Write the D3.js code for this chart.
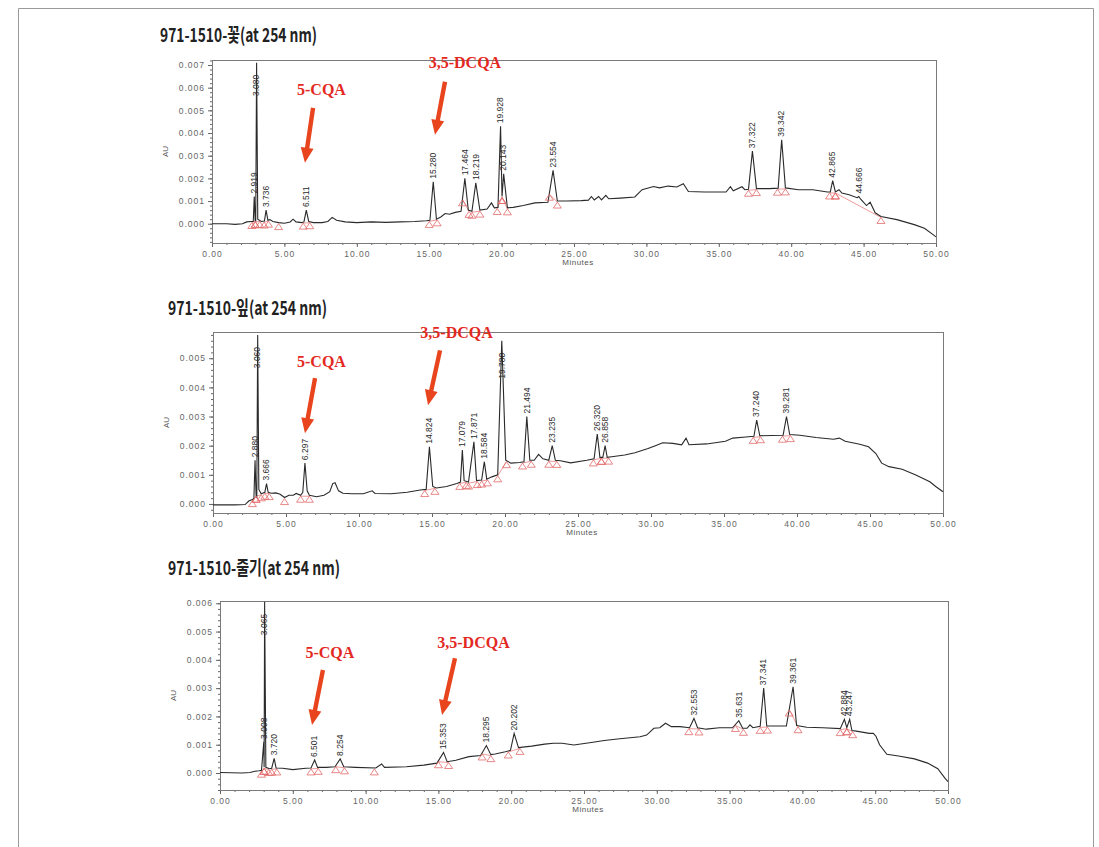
<!DOCTYPE html>
<html>
<head>
<meta charset="utf-8">
<script src="https://cdn.jsdelivr.net/npm/d3@7"></script>
<style>
  html, body { margin: 0; padding: 0; background: #fff; }
  svg { display: block; }
</style>
</head>
<body>
<script>
// ---- Chromatogram traces: [retention time (min), absorbance (AU)] ----
const flowerTrace = [
  [0,0.0000],[1.0,0.0000],[1.6,-0.00003],[2.1,0.0000],[2.4,0.00008],[2.7,0.0001],
  [2.85,0.0001],[2.919,0.0012],[2.98,0.00015],[3.02,0.0001],[3.08,0.0071],[3.16,0.0002],[3.4,0.0001],
  [3.62,0.00012],[3.736,0.0006],[3.86,0.00015],[4.0,0.00018],[4.2,0.0001],[4.6,0.00005],[5.0,0.00002],
  [5.4,0.00008],[5.6,0.0002],[5.8,0.00008],[6.2,0.00005],
  [6.35,0.00008],[6.511,0.0006],[6.68,0.0001],[7.0,0.00005],[7.6,0.00005],[8.0,0.0001],[8.3,0.00028],
  [8.6,0.00015],[9.2,0.00008],[10,0.00005],[11,0.00008],[12,0.00006],[13,0.00008],[14,0.0001],[14.8,0.00013],
  [15.05,0.00015],[15.28,0.00185],[15.5,0.0002],[15.8,0.0003],[16.1,0.00045],[16.4,0.00042],[16.8,0.0005],[17.2,0.00055],
  [17.464,0.002],[17.7,0.0006],[17.95,0.00055],[18.219,0.0018],[18.5,0.0006],[19.0,0.00065],[19.3,0.00092],
  [19.5,0.0007],[19.75,0.00072],
  [19.928,0.0043],[20.03,0.0012],[20.143,0.0022],[20.4,0.0007],[20.8,0.00072],[21.5,0.0008],[22.3,0.00092],[23.2,0.00095],
  [23.554,0.00235],[23.85,0.001],[24.5,0.001],[25.5,0.00102],[26.0,0.00104],[26.2,0.0012],[26.4,0.00105],
  [26.7,0.0012],[26.9,0.00105],[27.2,0.00125],[27.4,0.0011],[28.2,0.00113],[29.2,0.00118],[29.7,0.0015],
  [30.5,0.00164],[30.9,0.00158],[31.5,0.00166],[32.1,0.00162],[32.55,0.00176],[32.9,0.00142],[34,0.0014],
  [35.5,0.0014],[35.8,0.00163],[36.0,0.00145],[36.6,0.00163],[36.8,0.0015],
  [37.05,0.00152],[37.322,0.0032],[37.6,0.00155],[38.5,0.00155],[39.1,0.00157],[39.342,0.0037],[39.6,0.00158],
  [40.5,0.0015],[41.5,0.0015],[42.5,0.0014],[42.7,0.0014],[42.865,0.0019],[43.05,0.0014],[43.3,0.0015],
  [43.5,0.00135],[44.0,0.00128],[44.55,0.00115],[44.666,0.0012],[44.8,0.00108],[45.2,0.0008],[45.45,0.00095],
  [45.8,0.00048],[46.2,0.00032],[47.3,0.00018],[48.5,-0.00004],[49.2,-0.0002],[49.8,-0.00048],[50,-0.00058]
];

const leafTrace = [
  [0,-0.00003],[1.5,-0.00003],[2.2,-0.00002],[2.45,0.0001],[2.7,0.00015],
  [2.8,0.00018],[2.88,0.0015],[2.95,0.0003],[3.0,0.0002],[3.06,0.0058],[3.14,0.0005],[3.3,0.00035],[3.55,0.0004],
  [3.666,0.0007],[3.78,0.0004],[4.0,0.00037],[4.3,0.00038],[4.6,0.00033],[4.9,0.00022],[5.2,0.0003],
  [5.5,0.0003],[5.7,0.00036],[6.0,0.0003],
  [6.15,0.0004],[6.297,0.0014],[6.45,0.00045],[6.6,0.0003],[7.1,0.00025],[7.6,0.0003],[8.0,0.00042],
  [8.2,0.0007],[8.36,0.00073],[8.6,0.00045],[8.9,0.00037],[9.5,0.00035],[10.3,0.00035],[10.9,0.00045],
  [11.1,0.00036],[12.2,0.00035],[13.3,0.0004],[14.2,0.00048],[14.6,0.0005],
  [14.824,0.00196],[15.05,0.0006],[15.3,0.00055],[16.0,0.0006],[16.7,0.0007],[16.95,0.00075],
  [17.079,0.00185],[17.2,0.0008],[17.5,0.00075],[17.871,0.00213],[18.05,0.0008],[18.4,0.00082],
  [18.584,0.00145],[18.75,0.00085],[19.1,0.00093],[19.5,0.001],
  [19.78,0.0056],[20.05,0.0015],[20.4,0.0014],[21.0,0.00142],[21.3,0.00145],
  [21.494,0.003],[21.7,0.0015],[22.0,0.0015],[22.3,0.0017],[22.6,0.00155],[23.0,0.0015],
  [23.235,0.002],[23.45,0.0015],[23.8,0.00148],[24.5,0.00141],[25.6,0.0015],[26.1,0.00155],
  [26.32,0.0024],[26.5,0.0016],[26.7,0.0016],[26.858,0.002],[27.0,0.0016],[27.3,0.00162],[28.2,0.00168],
  [28.9,0.00176],[29.8,0.0019],[30.3,0.002],[30.8,0.0021],[31.5,0.00208],[32.1,0.00203],[32.4,0.00226],
  [32.6,0.00203],[33.8,0.00206],[35.1,0.00215],[35.6,0.00226],[36.5,0.0023],[37.05,0.00232],
  [37.24,0.00288],[37.45,0.00234],[38.3,0.00235],[39.05,0.00236],[39.281,0.003],[39.5,0.00238],
  [40.2,0.00236],[41.3,0.00228],[42.5,0.00222],[42.9,0.00226],[43.3,0.00215],[44.3,0.00205],[44.9,0.00196],
  [45.4,0.00173],[45.8,0.0014],[46.3,0.00128],[47.2,0.00119],[48.1,0.001],[49.1,0.00076],[49.5,0.0006],[50,0.00042]
];

const stemTrace = [
  [0,0.00002],[1.5,0.0],[2.06,0.00002],[2.4,0.00006],[2.7,0.00008],
  [2.85,0.0001],[3.008,0.0011],[3.03,0.0002],[3.065,0.00605],[3.15,0.0002],[3.4,0.00015],[3.55,0.00017],
  [3.72,0.00052],[3.85,0.00018],[4.3,0.00017],[5.0,0.00012],[5.9,0.00017],[6.25,0.00018],
  [6.501,0.00046],[6.7,0.0002],[7.3,0.0002],[7.9,0.00022],[8.254,0.0005],[8.5,0.00022],[9.3,0.0002],
  [10.7,0.00018],[11.1,0.00032],[11.3,0.0002],[12.8,0.00022],[14.0,0.00028],[14.9,0.00035],
  [15.353,0.00073],[15.6,0.0004],[16.2,0.00045],[17.1,0.00058],[17.9,0.00062],
  [18.295,0.00097],[18.6,0.00065],[18.9,0.00067],[19.6,0.00075],[19.95,0.0008],
  [20.202,0.0014],[20.5,0.0009],[21.4,0.00095],[22.3,0.00102],[22.9,0.00105],[23.5,0.00105],[24.3,0.00099],
  [25.5,0.00108],[26.4,0.00115],[27.3,0.0012],[28.85,0.00128],[29.3,0.00134],[29.8,0.00158],[30.2,0.0016],
  [30.6,0.00176],[31.0,0.00164],[31.6,0.00164],[32.25,0.0016],
  [32.553,0.00193],[32.8,0.0016],[33.4,0.00155],[34.3,0.0016],[35.2,0.0016],[35.631,0.00185],[35.9,0.00158],
  [36.2,0.00158],[36.4,0.0017],[36.6,0.0016],[37.1,0.00165],
  [37.341,0.003],[37.55,0.00166],[38.0,0.00166],[38.9,0.00166],[39.361,0.00305],[39.6,0.00168],
  [40.3,0.00162],[41.4,0.0016],[42.6,0.00157],
  [42.884,0.0019],[43.05,0.0016],[43.247,0.0019],[43.4,0.0015],[43.7,0.00148],[44.6,0.0014],[44.87,0.0014],
  [45.05,0.0013],[45.3,0.001],[45.8,0.00066],[46.6,0.0006],[47.7,0.0005],[48.6,0.00035],[49.3,0.00015],
  [49.8,-0.00019],[50,-0.0003]
];

// ---- Integrated peaks: [retention time, start, end] ----
const flowerPeaks = [
  [2.919,2.75,2.98],[3.08,3.0,3.3],[3.736,3.6,3.9],[6.511,6.3,6.75],[15.28,15.0,15.55],
  [17.464,17.3,17.75],[18.219,17.95,18.5],[19.928,19.7,20.03],[20.143,20.03,20.4],[23.554,23.3,23.85],
  [37.322,37.05,37.6],[39.342,39.05,39.6],[42.865,42.65,43.05],[44.666,43.05,46.2]
];
const leafPeaks = [
  [2.88,2.7,2.95],[3.06,2.95,3.3],[3.666,3.55,3.85],[6.297,6.0,6.6],[14.824,14.5,15.2],
  [17.079,16.9,17.35],[17.871,17.5,18.1],[18.584,18.4,18.8],[19.78,19.5,20.1],[21.494,21.2,21.8],
  [23.235,23.0,23.55],[26.32,26.05,26.6],[26.858,26.6,27.1],[37.24,37.0,37.5],[39.281,39.0,39.55]
];
const stemPeaks = [
  [3.008,2.85,3.03],[3.065,3.03,3.35],[3.72,3.55,3.9],[6.501,6.25,6.75],[8.254,7.95,8.55],
  [15.353,15.0,15.7],[18.295,18.0,18.6],[20.202,19.8,20.6],[32.553,32.2,32.9],[35.631,35.4,35.95],
  [37.341,37.1,37.6],[39.361,39.1,39.7],[42.884,42.6,43.05],[43.247,43.05,43.45]
];
// extra integration event marks (min)
const flowerEvents = [4.6];
const leafEvents = [4.9];
const stemEvents = [10.6];

// ---- Axis ticks ----
const timeTicks = [0,5,10,15,20,25,30,35,40,45,50];
const flowerAuTicks = [0,0.001,0.002,0.003,0.004,0.005,0.006,0.007];
const leafAuTicks = [0,0.001,0.002,0.003,0.004,0.005];
const stemAuTicks = [0,0.001,0.002,0.003,0.004,0.005,0.006];

// ---- Titles ----
const titles = ["971-1510-꽃(at 254 nm)", "971-1510-잎(at 254 nm)", "971-1510-줄기(at 254 nm)"];

// ---- Compound call-outs: [text, textT, textAU, tailT, tailAU, tipT, tipAU] ----
const flowerNotes = [["5-CQA",7.56,0.00568,6.98,0.00511,6.42,0.00269],["3,5-DCQA",17.47,0.00687,16.09,0.00626,15.40,0.00392]];
const leafNotes   = [["5-CQA",7.43,0.00469,6.99,0.00432,6.30,0.00243],["3,5-DCQA",16.68,0.00568,15.55,0.00527,14.73,0.00339]];
const stemNotes   = [["5-CQA",7.55,0.00406,7.07,0.00364,6.32,0.0017],["3,5-DCQA",17.41,0.00442,16.14,0.00406,15.25,0.00205]];

// ---- Panel layout ----
const panels = [
  {title: titles[0], tx: 160, ty: 42, tw: 157, l: 212, r: 936, t: 60, b: 243, dom: [-0.00085, 0.00722],
   trace: flowerTrace, peaks: flowerPeaks, events: flowerEvents, yTicks: flowerAuTicks, notes: flowerNotes},
  {title: titles[1], tx: 168, ty: 315, tw: 159, l: 213, r: 943, t: 332, b: 513, dom: [-0.00031, 0.0059],
   trace: leafTrace, peaks: leafPeaks, events: leafEvents, yTicks: leafAuTicks, notes: leafNotes},
  {title: titles[2], tx: 168, ty: 575, tw: 172, l: 220, r: 948, t: 601, b: 790, dom: [-0.0006, 0.00608],
   trace: stemTrace, peaks: stemPeaks, events: stemEvents, yTicks: stemAuTicks, notes: stemNotes}
];

const W = 1099, H = 847;
const svg = d3.select("body").append("svg").attr("width", W).attr("height", H);
svg.append("rect").attr("width", W).attr("height", H).attr("fill", "#fff");

// page frame
svg.append("path").attr("d", "M18.5,847 V8.5 H1093.5 V847")
  .attr("fill", "none").attr("stroke", "#9a9a9a").attr("stroke-width", 1);

const fmtAU = d3.format(".3f"), fmtMin = d3.format(".2f");
const tickFont = "'Liberation Sans', Arial, sans-serif";
const bis = d3.bisector(d => d[0]).left;

function valueAt(trace, t) {
  const i = Math.max(1, Math.min(trace.length - 1, bis(trace, t)));
  const a = trace[i - 1], b = trace[i];
  const k = (t - a[0]) / (b[0] - a[0]);
  return a[1] + k * (b[1] - a[1]);
}

panels.forEach((p, pi) => {
  const x = d3.scaleLinear().domain([0, 50]).range([p.l, p.r]);
  const y = d3.scaleLinear().domain(p.dom).range([p.b, p.t]);
  const g = svg.append("g");

  // title
  g.append("text").attr("x", p.tx).attr("y", p.ty)
    .attr("textLength", p.tw).attr("lengthAdjust", "spacingAndGlyphs")
    .attr("font-family", "'Noto Sans CJK KR', sans-serif").attr("font-weight", 700)
    .attr("font-size", 19).attr("fill", "#222").text(p.title);

  // axes
  g.append("g").attr("transform", `translate(0,${p.b})`)
    .call(d3.axisBottom(x).tickValues(timeTicks).tickFormat(fmtMin).tickSize(4).tickPadding(4));
  g.append("g").attr("transform", `translate(0,${p.b})`)
    .call(d3.axisBottom(x).ticks(50).tickFormat("").tickSize(2));
  g.append("g").attr("transform", `translate(${p.l},0)`)
    .call(d3.axisLeft(y).tickValues(p.yTicks).tickFormat(fmtAU).tickSize(4).tickPadding(3));
  g.append("g").attr("transform", `translate(${p.l},0)`)
    .call(d3.axisLeft(y).ticks(40).tickFormat("").tickSize(2));
  g.selectAll(".domain").remove();
  g.selectAll(".tick line").attr("stroke", "#666");
  g.selectAll(".tick text").attr("font-family", tickFont).attr("font-size", 8.5)
    .attr("letter-spacing", 1).attr("fill", "#666");

  // plot frame
  g.append("rect").attr("x", p.l + 0.5).attr("y", p.t + 0.5)
    .attr("width", p.r - p.l).attr("height", p.b - p.t)
    .attr("fill", "none").attr("stroke", "#7a7a7a").attr("stroke-width", 1);

  // axis titles
  g.append("text").attr("transform", `translate(${p.l - 44},${(p.t + p.b) / 2}) rotate(-90)`)
    .attr("text-anchor", "middle").attr("font-family", tickFont).attr("font-size", 8)
    .attr("fill", "#555").text("AU");
  g.append("text").attr("x", (p.l + p.r) / 2 + 4).attr("y", p.b + 22)
    .attr("text-anchor", "middle").attr("font-family", tickFont).attr("font-size", 8)
    .attr("letter-spacing", 0.5).attr("fill", "#555").text("Minutes");

  // clip
  const cid = "clip" + pi;
  svg.append("clipPath").attr("id", cid).append("rect")
    .attr("x", p.l).attr("y", p.t).attr("width", p.r - p.l).attr("height", p.b - p.t);
  const plot = g.append("g").attr("clip-path", `url(#${cid})`);

  // integration baselines
  plot.selectAll(".base").data(p.peaks).join("line")
    .attr("x1", d => x(d[1])).attr("y1", d => y(valueAt(p.trace, d[1])) + 1)
    .attr("x2", d => x(d[2])).attr("y2", d => y(valueAt(p.trace, d[2])) + 1)
    .attr("stroke", "#e88080").attr("stroke-width", 0.8);

  // chromatogram trace
  plot.append("path").datum(p.trace)
    .attr("d", d3.line().x(d => x(d[0])).y(d => y(d[1])))
    .attr("fill", "none").attr("stroke", "#2a2a2a").attr("stroke-width", 1.1);

  // peak start / end marks
  const marks = p.peaks.flatMap(d => [d[1], d[2]]).concat(p.events);
  plot.selectAll(".mk").data(marks).join("path")
    .attr("d", t => {
      const cx = x(t), cy = y(valueAt(p.trace, t)) + 1;
      return `M${cx},${cy} L${cx - 4},${cy + 6} L${cx + 4},${cy + 6} Z`;
    })
    .attr("fill", "none").attr("stroke", "#e36a6a").attr("stroke-width", 0.8);

  // retention-time labels
  p.peaks.forEach(d => {
    const apex = p.trace.find(q => q[0] === d[0]);
    const ax0 = x(d[0]), ay0 = y(apex[1]);
    const txt = g.append("text")
      .attr("font-family", tickFont).attr("font-size", 8.5).attr("fill", "#2a2a2a")
      .attr("dominant-baseline", "middle").text(d[0].toFixed(3));
    const len = txt.node().getComputedTextLength();
    if (ay0 - 3 - len < p.t + 4) {
      txt.attr("text-anchor", "end").attr("transform", `translate(${ax0 + 0.5},${ay0 + 12}) rotate(-90)`);
    } else {
      txt.attr("text-anchor", "start").attr("transform", `translate(${ax0 + 0.5},${ay0 - 3}) rotate(-90)`);
    }
  });

  // compound call-outs
  p.notes.forEach(n => {
    g.append("text").attr("x", x(n[1])).attr("y", y(n[2]))
      .attr("text-anchor", "middle").attr("font-family", "'Liberation Serif', 'Times New Roman', serif")
      .attr("font-weight", "bold").attr("font-size", 16).attr("fill", "#e3291f").text(n[0]);
    const x1 = x(n[3]), y1 = y(n[4]), x2 = x(n[5]), y2 = y(n[6]);
    const dx = x2 - x1, dy = y2 - y1, L = Math.hypot(dx, dy);
    const ux = dx / L, uy = dy / L, nx = -uy, ny = ux;
    const sw = 2.2, hw = 6.5, hl = 15;
    const mx = x2 - ux * hl, my = y2 - uy * hl;
    const pts = [
      [x1 + nx * sw, y1 + ny * sw], [mx + nx * sw, my + ny * sw], [mx + nx * hw, my + ny * hw],
      [x2, y2], [mx - nx * hw, my - ny * hw], [mx - nx * sw, my - ny * sw], [x1 - nx * sw, y1 - ny * sw]
    ];
    g.append("path").attr("d", "M" + pts.map(q => q.join(",")).join("L") + "Z")
      .attr("fill", "#e8441e");
  });
});
</script>
</body>
</html>
